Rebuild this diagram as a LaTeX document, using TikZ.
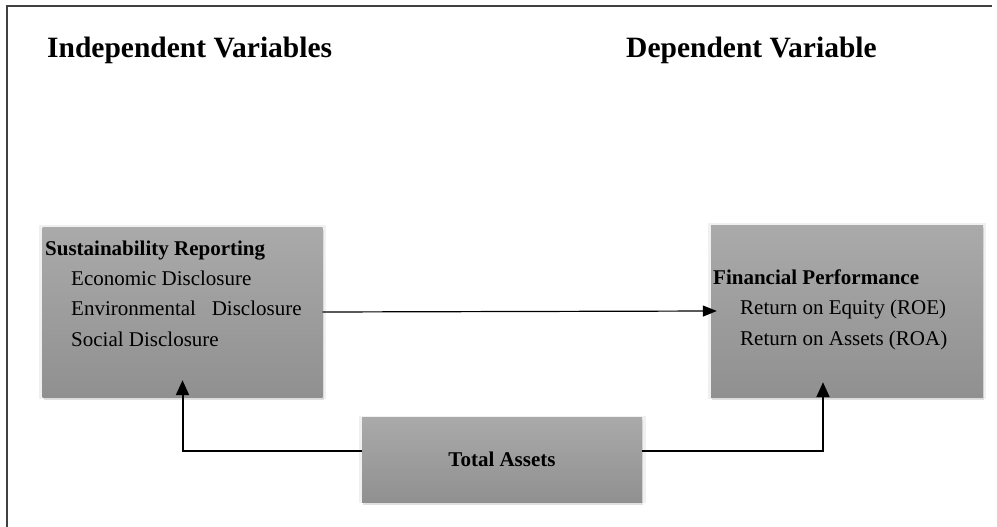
\documentclass[tikz,border=0pt]{standalone}
\usepackage{fontspec}
\setmainfont{Liberation Serif}
\usetikzlibrary{arrows.meta,shadows}

\definecolor{boxtop}{RGB}{170,170,170}
\definecolor{boxbottom}{RGB}{144,144,144}

\tikzset{
    varbox/.style={inner sep=0pt, rectangle, top color=boxtop, bottom color=boxbottom,
        general shadow={fill=black!6, shadow scale=1.025},
        drop shadow={fill=black!20, opacity=0.6, shadow xshift=1pt, shadow yshift=-3pt}},
    heading/.style={inner sep=0pt, anchor=west, font=\fontsize{29.5}{34}\selectfont\bfseries},
    boxtitle/.style={inner sep=0pt, anchor=west, text height=1.5ex, text depth=.25ex,
        font=\fontsize{21}{25}\selectfont\bfseries},
    boxline/.style={inner sep=0pt, anchor=west, text height=1.5ex, text depth=.25ex,
        font=\fontsize{21}{25}\selectfont},
    thinarrow/.style={line width=1.2pt, -{Triangle[length=14pt,width=11pt]}},
    elbowarrow/.style={line width=2pt, -{Triangle[length=15pt,width=13pt]}}
}

\begin{document}
\begin{tikzpicture}[x=1pt, y=-1pt]

\useasboundingbox (0,0) rectangle (997,527);

% frame
\draw[line width=1.6pt, black!75] (7,527) -- (7,6) -- (992,6);

\node[heading] (indep) at (47,50) {Independent Variables};
\node[heading] (dep) at (626,50) {Dependent Variable};

% boxes
\node[varbox, minimum width=280pt, minimum height=170pt] (srbox) at (182.5,312) {};
\node[varbox, minimum width=272pt, minimum height=172pt] (fpbox) at (847,311) {};
\node[varbox, minimum width=280pt, minimum height=85pt,
    font=\fontsize{21}{25}\selectfont\bfseries] (tabox) at (502,459.5) {Total Assets};

\node[boxtitle] (srtitle) at (45,253) {Sustainability Reporting};
\node[boxline] (econ) at (71,283) {Economic Disclosure};
\node[boxline] (envi) at (71,313) {Environmental\ \ \ Disclosure};
\node[boxline] (soci) at (71,344) {Social Disclosure};

\node[boxtitle] (fptitle) at (713,282) {Financial Performance};
\node[boxline] (roe) at (740,312) {Return on Equity (ROE)};
\node[boxline] (roa) at (740,343) {Return on Assets (ROA)};

% arrows
\draw[thinarrow] (srbox.east) -- ([xshift=6pt]fpbox.west);
\draw[elbowarrow] ([yshift=9pt]tabox.west) -| ([yshift=17pt]srbox.south);
\draw[elbowarrow] ([yshift=9pt]tabox.east) -| ([xshift=-24pt,yshift=15pt]fpbox.south);

\end{tikzpicture}
\end{document}
